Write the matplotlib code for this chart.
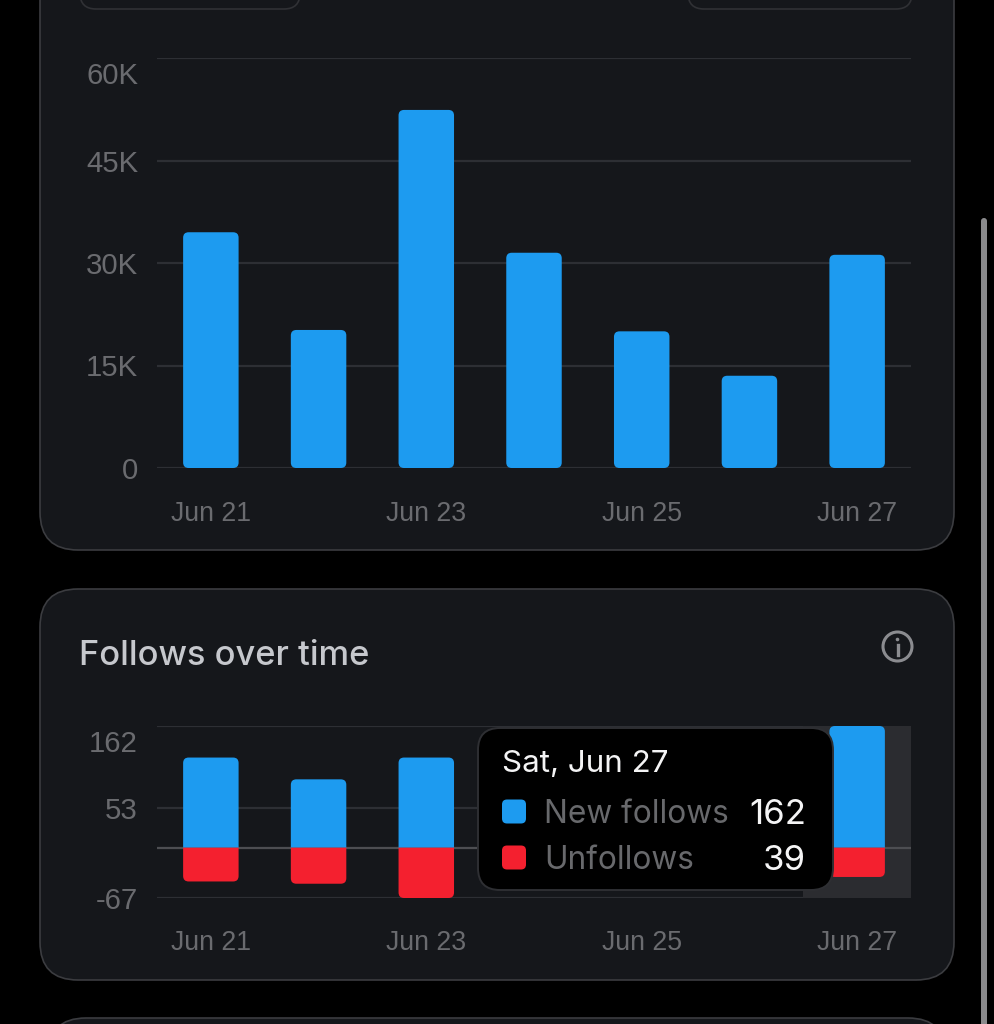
import matplotlib
matplotlib.use('Agg')
import matplotlib.pyplot as plt
from matplotlib.patches import FancyBboxPatch, PathPatch, Rectangle
from matplotlib.path import Path
from matplotlib.transforms import Affine2D, IdentityTransform

plt.rcParams['font.family'] = ['Inter', 'DejaVu Sans']

days = ['Jun 21', 'Jun 22', 'Jun 23', 'Jun 24', 'Jun 25', 'Jun 26', 'Jun 27']
day_labels = ['Jun 21', '', 'Jun 23', '', 'Jun 25', '', 'Jun 27']
views = [34500, 20200, 52400, 31500, 20000, 13500, 31200]
views_ticks = [0, 15000, 30000, 45000, 60000]
views_tick_labels = ['0', '15K', '30K', '45K', '60K']

# the three middle days sit behind the tooltip
follow_days = ['Jun 21', 'Jun 22', 'Jun 23', 'Jun 27']
new_follows = [120, 91, 120, 162]
unfollows = [45, 48, 67, 39]
follow_ticks = [-67, 53, 162]

PAGE = '#000000'
CARD = '#15171b'
EDGE = '#3b3c40'
GRID = '#2d2f34'
ZERO = '#4d4e52'
MUTED = '#6a6b6f'
BLUE = '#1d9bf0'
RED = '#f4202f'
AXIS_FONT = ['Liberation Sans', 'DejaVu Sans']
W, H = 994, 1024

fig = plt.figure(figsize=(W / 100, H / 100), dpi=100, facecolor=PAGE)
page = fig.add_axes([0, 0, 1, 1])
page.set_xlim(0, W)
page.set_ylim(H, 0)
page.axis('off')


def card(x0, y0, x1, y1, r, edge=EDGE, face=CARD, lw=1.2, z=1):
    p = FancyBboxPatch((x0 + r, y0 + r), x1 - x0 - 2 * r, y1 - y0 - 2 * r,
                       boxstyle='round,pad=%f,rounding_size=%f' % (r, r),
                       fc=face, ec=edge, lw=lw, zorder=z)
    page.add_patch(p)
    return p


def chart_axes(y_top, y_bottom):
    ax = fig.add_axes([157 / W, 1 - y_bottom / H, (911 - 157) / W, (y_bottom - y_top) / H])
    ax.patch.set_alpha(0)
    for s in ax.spines.values():
        s.set_visible(False)
    ax.set_xlim(-0.5, 6.5)
    ax.tick_params(length=0)
    ax.set_axisbelow(True)
    return ax


def style_labels(ax):
    for t in ax.get_xticklabels():
        t.set_fontfamily(AXIS_FONT)
        t.set_fontsize(19.2)
    for t in ax.get_yticklabels():
        t.set_fontfamily(AXIS_FONT)
        t.set_fontsize(21.2)
    # the top label is pushed under its gridline
    top = ax.get_yticklabels()[-1]
    top.set_transform(top.get_transform() + Affine2D().translate(0, -15))


def round_off(ax, bars, color, r=5.5, both=False):
    # swap the bars for paths rounded at the free end, in pixels
    for b in bars:
        (x0, y0), (x1, y1) = ax.transData.transform(
            [(b.get_x(), b.get_y()), (b.get_x() + b.get_width(), b.get_y() + b.get_height())])
        s = 1 if y1 > y0 else -1
        if both:
            verts = [(x0, y0 + s * r), (x0, y1 - s * r), (x0, y1), (x0 + r, y1), (x1 - r, y1),
                     (x1, y1), (x1, y1 - s * r), (x1, y0 + s * r), (x1, y0), (x1 - r, y0),
                     (x0 + r, y0), (x0, y0), (x0, y0 + s * r)]
            codes = [Path.MOVETO, Path.LINETO, Path.CURVE3, Path.CURVE3, Path.LINETO,
                     Path.CURVE3, Path.CURVE3, Path.LINETO, Path.CURVE3, Path.CURVE3,
                     Path.LINETO, Path.CURVE3, Path.CURVE3]
        else:
            verts = [(x0, y0), (x0, y1 - s * r), (x0, y1), (x0 + r, y1), (x1 - r, y1),
                     (x1, y1), (x1, y1 - s * r), (x1, y0), (x0, y0)]
            codes = [Path.MOVETO, Path.LINETO, Path.CURVE3, Path.CURVE3, Path.LINETO,
                     Path.CURVE3, Path.CURVE3, Path.LINETO, Path.CLOSEPOLY]
        b.remove()
        ax.add_artist(PathPatch(Path(verts, codes), fc=color, ec='none',
                                transform=IdentityTransform(), zorder=3, clip_on=False))


# cards
card(40, -80, 954, 550, 38)
card(40, 589, 954, 980, 38)
card(48, 1018, 946, 1100, 38)
card(80, -40, 300, 9, 16, edge='#303135', lw=1.2, z=2)
card(688, -40, 912, 9, 16, edge='#303135', lw=1.2, z=2)

# scrollbar
page.add_patch(FancyBboxPatch((981, 218), 6, 830, boxstyle='round,pad=0,rounding_size=3',
                              fc='#8a8a8c', ec='none', zorder=2))

# impressions chart
ax1 = chart_axes(58, 468)
ax1.set_ylim(0, 60000)
ax1.set_yticks(views_ticks, views_tick_labels, color=MUTED, ha='right')
ax1.set_xticks(range(7), day_labels, color=MUTED)
ax1.tick_params(axis='y', pad=13.5)
ax1.tick_params(axis='x', pad=24)
ax1.grid(axis='y', color=GRID, lw=1.6)
ax1.grid(axis='x', visible=False)
style_labels(ax1)
round_off(ax1, ax1.bar(range(7), views, width=0.515), BLUE, both=True)

# follows chart
ax2 = chart_axes(726, 898)
ax2.set_ylim(-67, 162)
ax2.set_yticks(follow_ticks, [str(v) for v in follow_ticks], color=MUTED)
ax2.set_xticks(range(7), day_labels, color=MUTED)
ax2.tick_params(axis='y', pad=14)
ax2.tick_params(axis='x', pad=23)
ax2.grid(axis='y', color=GRID, lw=1.6)
ax2.grid(axis='x', visible=False)
style_labels(ax2)
ax2.axhline(0, color=ZERO, lw=1.6, zorder=1.5)
ax2.add_patch(Rectangle((5.5, -67), 1, 229, fc='#2b2c30', ec='none', zorder=1))
xs = [days.index(d) for d in follow_days]
round_off(ax2, ax2.bar(xs, new_follows, width=0.515), BLUE)
round_off(ax2, ax2.bar(xs, [-u for u in unfollows], width=0.515), RED)

# card title and info icon
page.text(79, 656, 'Follows over time', fontsize=24.8, fontweight='medium', color='#c6c8cd',
          va='center', zorder=5)
page.add_patch(plt.Circle((897.5, 646.5), 14.5, fc='none', ec='#8b8c90', lw=2.2, zorder=5))
page.add_patch(plt.Circle((897.5, 639.5), 1.8, fc='#8b8c90', ec='none', zorder=5))
page.plot([897.5, 897.5], [645, 655], color='#8b8c90', lw=2.4, zorder=5)

# tooltip
tip = fig.add_axes([0, 0, 1, 1], zorder=10)
tip.set_xlim(0, W)
tip.set_ylim(H, 0)
tip.axis('off')
tip.add_patch(FancyBboxPatch((500, 750), 311, 118, boxstyle='round,pad=22,rounding_size=22',
                             fc='#000000', ec='#2e2f33', lw=1.4))
tip.text(502, 764, 'Sat, Jun 27', fontsize=22.6, color='#f4f4f5', va='center')
for name, val, col, y in [('New follows', new_follows[-1], BLUE, 812),
                          ('Unfollows', unfollows[-1], RED, 858)]:
    tip.add_patch(FancyBboxPatch((504, y - 10.5), 20, 20, boxstyle='round,pad=2,rounding_size=5',
                                 fc=col, ec='none'))
    tip.text(544, y + 2.5, name, fontsize=22.8, color='#68696c', va='center')
    tip.text(806, y + 2.5, str(val), fontsize=25, color='#f4f4f5', va='center', ha='right')

fig.savefig('out.png', dpi=100, facecolor=PAGE)
